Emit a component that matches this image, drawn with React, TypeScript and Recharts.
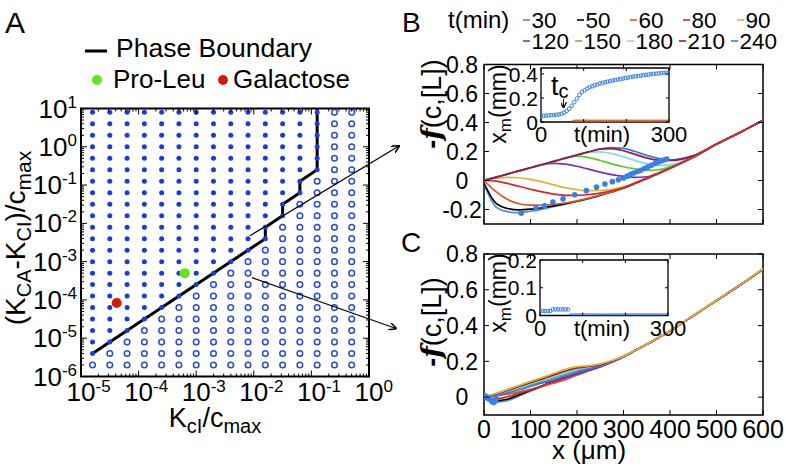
import React from "react";
import { ComposedChart, Scatter, Line, XAxis, YAxis, ReferenceArea } from "recharts";

const W = 786;
const H = 468;
const FONT = "'Liberation Sans', Arial, sans-serif";

// ---------- panel A: parameter sweep, log10 of the grid values ----------
const A_COL_EXP = [-4.8, -4.5, -4.2, -3.9, -3.6, -3.3, -3.0, -2.7, -2.4, -2.1, -1.8, -1.5, -1.2, -0.9, -0.6, -0.3];
const A_ROW_EXP = [-5.7, -5.4, -5.1, -4.8, -4.5, -4.2, -3.9, -3.6, -3.3, -3.0, -2.7, -2.4, -2.1, -1.8, -1.5, -1.2, -0.9, -0.6, -0.3, 0, 0.3, 0.6, 0.9];
// last filled column for each row (-1 = none filled)
const A_LAST_FILLED = [-1, 0, 1, 2, 3, 4, 5, 6, 7, 8, 9, 10, 10, 11, 11, 12, 12, 13, 13, 13, 13, 13, 13];
const A_BOUNDARY_X = [-4.8, -1.8, -1.8, -1.5, -1.5, -1.2, -1.2, -0.9, -0.9];
const A_BOUNDARY_Y = [-5.4, -2.4, -2.1, -1.8, -1.5, -1.2, -0.9, -0.6, 1];
const PRO_LEU = [-3.2, -3.3];
const GALACTOSE = [-4.38, -4.08];
const A_X_DECADES = [-5, -4, -3, -2, -1, 0];
const A_Y_DECADES = [-6, -5, -4, -3, -2, -1, 0, 1];
const MINOR = [2, 3, 4, 5, 6, 7, 8, 9];

// ---------- panels B and C: profiles -f(c,[L]) vs x (um) ----------
const T_MIN = [30, 50, 60, 80, 90, 120, 150, 180, 210, 240];
const T_COLORS = ["#4a8ee0", "#000000", "#e0532a", "#c92b2b", "#e2b03a", "#7b2fb8", "#64c234", "#7fd9ec", "#991a3c", "#3a78de"];
const X_UM = [0, 25, 50, 75, 100, 125, 150, 175, 200, 225, 250, 275, 300, 325, 350, 375, 400, 450, 500, 550, 600];
const X_TICKS = [0, 100, 200, 300, 400, 500, 600];

const B_30 = [-0.025, -0.18, -0.215, -0.222, -0.212, -0.197, -0.18, -0.163, -0.145, -0.125, -0.103, -0.079, -0.053, -0.02, 0.013, 0.047, 0.083, 0.16, 0.25, 0.33, 0.415];
const B_50 = [-0.02, -0.155, -0.193, -0.203, -0.198, -0.188, -0.175, -0.16, -0.143, -0.124, -0.102, -0.078, -0.052, -0.019, 0.014, 0.048, 0.084, 0.16, 0.25, 0.33, 0.415];
const B_60 = [0, -0.075, -0.13, -0.16, -0.17, -0.17, -0.165, -0.155, -0.14, -0.122, -0.1, -0.077, -0.051, -0.018, 0.015, 0.049, 0.085, 0.161, 0.25, 0.33, 0.415];
const B_80 = [0, -0.004, -0.02, -0.04, -0.06, -0.079, -0.094, -0.102, -0.103, -0.097, -0.087, -0.071, -0.05, -0.018, 0.016, 0.05, 0.086, 0.162, 0.251, 0.331, 0.415];
const B_90 = [0, 0.014, 0.021, 0.019, 0.008, -0.01, -0.03, -0.05, -0.063, -0.07, -0.069, -0.061, -0.044, -0.015, 0.018, 0.051, 0.087, 0.162, 0.251, 0.331, 0.415];
const B_120 = [0, 0.022, 0.044, 0.066, 0.088, 0.108, 0.118, 0.113, 0.098, 0.078, 0.058, 0.04, 0.028, 0.022, 0.026, 0.052, 0.088, 0.16, 0.25, 0.331, 0.415];
const B_150 = [0, 0.022, 0.044, 0.066, 0.088, 0.11, 0.132, 0.155, 0.168, 0.158, 0.138, 0.115, 0.095, 0.08, 0.07, 0.074, 0.095, 0.163, 0.251, 0.331, 0.415];
const B_180 = [0, 0.022, 0.044, 0.066, 0.088, 0.11, 0.132, 0.154, 0.176, 0.195, 0.198, 0.185, 0.163, 0.138, 0.115, 0.103, 0.108, 0.165, 0.251, 0.331, 0.415];
const B_210 = [0, 0.022, 0.044, 0.066, 0.088, 0.11, 0.132, 0.154, 0.176, 0.197, 0.216, 0.22, 0.205, 0.18, 0.155, 0.14, 0.138, 0.17, 0.252, 0.331, 0.415];
const B_240 = [0, 0.022, 0.044, 0.066, 0.088, 0.11, 0.132, 0.154, 0.176, 0.197, 0.217, 0.227, 0.222, 0.2, 0.173, 0.153, 0.143, 0.172, 0.252, 0.331, 0.415];
const B_DOT_X = [80, 112, 130, 148, 170, 195, 220, 242, 260, 276, 289, 300, 308, 315, 322, 330, 337, 345, 352, 360, 368, 375, 382, 388, 393];
const B_DOT_Y = [-0.225, -0.19, -0.175, -0.148, -0.127, -0.098, -0.07, -0.046, -0.024, -0.008, 0.005, 0.018, 0.03, 0.042, 0.052, 0.062, 0.07, 0.082, 0.092, 0.105, 0.118, 0.128, 0.137, 0.143, 0.148];

const C_30 = [-0.01, -0.028, -0.02, 0.006, 0.033, 0.06, 0.086, 0.109, 0.129, 0.149, 0.17, 0.196, 0.226, 0.26, 0.295, 0.332, 0.37, 0.455, 0.54, 0.625, 0.715];
const C_50 = [-0.005, -0.02, -0.012, 0.012, 0.038, 0.063, 0.088, 0.11, 0.13, 0.15, 0.17, 0.196, 0.226, 0.26, 0.295, 0.332, 0.37, 0.455, 0.54, 0.625, 0.715];
const C_60 = [0, 0.006, 0.016, 0.028, 0.043, 0.06, 0.078, 0.098, 0.122, 0.146, 0.17, 0.196, 0.226, 0.26, 0.295, 0.332, 0.37, 0.455, 0.54, 0.625, 0.715];
const C_80 = [-0.005, -0.01, 0.002, 0.02, 0.04, 0.063, 0.086, 0.108, 0.13, 0.15, 0.17, 0.196, 0.226, 0.26, 0.295, 0.332, 0.37, 0.455, 0.54, 0.625, 0.715];
const C_90 = [0, 0.02, 0.042, 0.065, 0.088, 0.11, 0.133, 0.155, 0.17, 0.176, 0.186, 0.205, 0.229, 0.261, 0.296, 0.333, 0.371, 0.456, 0.541, 0.626, 0.716];
const C_120 = [0, 0.018, 0.04, 0.062, 0.072, 0.08, 0.09, 0.108, 0.13, 0.152, 0.172, 0.197, 0.226, 0.26, 0.295, 0.332, 0.37, 0.455, 0.54, 0.625, 0.715];
const C_150 = [0, 0.012, 0.03, 0.05, 0.07, 0.09, 0.11, 0.13, 0.148, 0.162, 0.176, 0.2, 0.228, 0.26, 0.295, 0.332, 0.37, 0.455, 0.54, 0.625, 0.715];
const C_180 = [0, 0.014, 0.034, 0.055, 0.076, 0.097, 0.117, 0.137, 0.155, 0.167, 0.179, 0.201, 0.228, 0.26, 0.295, 0.332, 0.37, 0.455, 0.54, 0.625, 0.715];
const C_210 = [0, 0.016, 0.037, 0.059, 0.081, 0.102, 0.124, 0.146, 0.163, 0.171, 0.182, 0.203, 0.228, 0.26, 0.295, 0.332, 0.37, 0.455, 0.54, 0.625, 0.715];
const C_240 = [0, 0.008, 0.022, 0.04, 0.06, 0.08, 0.1, 0.12, 0.14, 0.158, 0.175, 0.199, 0.227, 0.26, 0.295, 0.332, 0.37, 0.455, 0.54, 0.625, 0.715];
const C_DOT_X = [2, 6, 12, 17, 21, 24, 26];
const C_DOT_Y = [0.008, 0.0, -0.012, -0.025, -0.03, -0.022, -0.01];

// ---------- insets: front position x_m (mm) vs t (min) ----------
const B_IN_T = [0, 6, 12, 18, 24, 30, 36, 42, 48, 54, 60, 66, 72, 78, 84, 90, 96, 102, 108, 114, 120, 126, 132, 138, 144, 150, 156, 162, 168, 174, 180, 186, 192, 198, 204, 210, 216, 222, 228, 234, 240, 246, 252, 258, 264, 270, 276, 282, 288, 294, 300];
const B_IN_XM = [0.05, 0.052, 0.054, 0.055, 0.057, 0.058, 0.06, 0.063, 0.068, 0.078, 0.092, 0.11, 0.135, 0.165, 0.195, 0.225, 0.25, 0.265, 0.278, 0.29, 0.298, 0.306, 0.313, 0.32, 0.326, 0.331, 0.336, 0.341, 0.346, 0.35, 0.354, 0.358, 0.362, 0.366, 0.37, 0.374, 0.378, 0.381, 0.384, 0.387, 0.39, 0.393, 0.396, 0.398, 0.401, 0.403, 0.405, 0.407, 0.409, 0.411, 0.413];
const B_IN_ZERO_T = [78, 84, 90, 96, 102, 108, 114, 120, 126, 132, 138, 144, 150, 156, 162, 168, 174, 180, 186, 192, 198, 204, 210, 216, 222, 228, 234, 240, 246, 252, 258, 264, 270, 276, 282, 288, 294, 300];
const C_IN_T = [0, 6, 12, 18, 24, 30, 36, 42, 48, 54, 60, 66, 72, 78, 84, 90, 96, 102, 108, 114, 120, 126, 132, 138, 144, 150, 156, 162, 168, 174, 180, 186, 192, 198, 204, 210, 216, 222, 228, 234, 240, 246, 252, 258, 264, 270, 276, 282, 288, 294, 300];
const C_IN_XM = [0.016, 0.016, 0.016, 0.016, 0.016, 0.022, 0.022, 0.022, 0.022, 0.022, 0.022, 0.022, 0, 0, 0, 0, 0, 0, 0, 0, 0, 0, 0, 0, 0, 0, 0, 0, 0, 0, 0, 0, 0, 0, 0, 0, 0, 0, 0, 0, 0, 0, 0, 0, 0, 0, 0, 0, 0, 0, 0];

type Pt = { x: number; y: number };
const pts = (xs: number[], ys: number[]): Pt[] => xs.map((x, i) => ({ x, y: ys[i] }));
const logPts = (xs: number[], ys: number[]): Pt[] => xs.map((x, i) => ({ x: 10 ** x, y: 10 ** ys[i] }));

// plot boxes (pixel edges)
const A_BOX = { l: 81, t: 108.5, r: 369, b: 376.5 };
const B_BOX = { l: 484, t: 64.5, r: 763, b: 224 };
const C_BOX = { l: 484, t: 254, r: 763, b: 415 };
const BI_BOX = { l: 541, t: 68, r: 669, b: 122 };
const CI_BOX = { l: 540, t: 260, r: 668, b: 315.5 };

const YW = 50;
const XH = 40;
const marginFor = (bx: { l: number; t: number; r: number; b: number }) => ({
  top: bx.t,
  left: bx.l - YW,
  right: W - bx.r,
  bottom: H - bx.b - XH,
});

const layer: React.CSSProperties = { position: "absolute", left: 0, top: 0 };

const dot = (r: number, fill: string) => (p: any) => <circle cx={p.cx} cy={p.cy} r={r} fill={fill} />;
const ring = (r: number, stroke: string, sw: number) => (p: any) => (
  <circle cx={p.cx} cy={p.cy} r={r} fill="none" stroke={stroke} strokeWidth={sw} />
);

// ---------- tick renderers (inward ticks on all four sides) ----------
const isMajor = (v: number) => {
  const e = Math.log10(v);
  return Math.abs(e - Math.round(e)) < 1e-6;
};

const LogXTick = (p: any) => {
  const { x, y, payload } = p;
  const major = isMajor(payload.value);
  const len = major ? 6 : 3;
  const h = A_BOX.b - A_BOX.t;
  return (
    <g>
      <line x1={x} y1={y} x2={x} y2={y - len} stroke="#000" />
      <line x1={x} y1={y - h} x2={x} y2={y - h + len} stroke="#000" />
      {major && (
        <text x={x} y={y + 24} fontSize={26} fontFamily={FONT} textAnchor="middle" fill="#000">10</text>
      )}
      {major && (
        <text x={x + 14.5} y={y + 15} fontSize={17} fontFamily={FONT} fill="#000">{Math.round(Math.log10(payload.value))}</text>
      )}
    </g>
  );
};

const LogYTick = (p: any) => {
  const { x, y, payload } = p;
  const major = isMajor(payload.value);
  const len = major ? 6 : 3;
  const w = A_BOX.r - A_BOX.l;
  return (
    <g>
      <line x1={x} y1={y} x2={x + len} y2={y} stroke="#000" />
      <line x1={x + w} y1={y} x2={x + w - len} y2={y} stroke="#000" />
      {major && (
        <text x={x - 4} y={y + 9} fontSize={26} fontFamily={FONT} textAnchor="end" fill="#000">
          10<tspan dy={-10} fontSize={17}>{Math.round(Math.log10(payload.value))}</tspan>
        </text>
      )}
    </g>
  );
};

const linXTick = (plotH: number, showLabel: (v: number) => boolean, fs: number, dy: number, len: number) => (p: any) => {
  const { x, y, payload } = p;
  return (
    <g>
      <line x1={x} y1={y} x2={x} y2={y - len} stroke="#000" />
      <line x1={x} y1={y - plotH} x2={x} y2={y - plotH + len} stroke="#000" />
      {showLabel(payload.value) && (
        <text x={x} y={y + dy} fontSize={fs} fontFamily={FONT} textAnchor="middle" fill="#000">{payload.value}</text>
      )}
    </g>
  );
};

const linYTick = (plotW: number, fs: number, labelX: number, anchor: "middle" | "end", len: number) => (p: any) => {
  const { x, y, payload } = p;
  return (
    <g>
      <line x1={x} y1={y} x2={x + len} y2={y} stroke="#000" />
      <line x1={x + plotW} y1={y} x2={x + plotW - len} y2={y} stroke="#000" />
      <text x={x - labelX} y={y + fs * 0.36} fontSize={fs} fontFamily={FONT} textAnchor={anchor} fill="#000">{payload.value}</text>
    </g>
  );
};

// ---------- panel A ----------
const aFilled: Pt[] = [];
const aOpen: Pt[] = [];
A_ROW_EXP.forEach((ry, k) =>
  A_COL_EXP.forEach((cx, c) => (c <= A_LAST_FILLED[k] ? aFilled : aOpen).push({ x: 10 ** cx, y: 10 ** ry }))
);
const aBoundary = logPts(A_BOUNDARY_X, A_BOUNDARY_Y);
const aXTicks = A_X_DECADES.flatMap((d) => (d < 0 ? [10 ** d, ...MINOR.map((m) => m * 10 ** d)] : [10 ** d]));
const aYTicks = A_Y_DECADES.flatMap((d) => (d < 1 ? [10 ** d, ...MINOR.map((m) => m * 10 ** d)] : [10 ** d]));

function PanelA() {
  return (
    <ComposedChart width={W} height={H} margin={marginFor(A_BOX)}>
      <XAxis type="number" dataKey="x" scale="log" domain={[1e-5, 1]} allowDataOverflow ticks={aXTicks} interval={0}
        tick={LogXTick} tickLine={false} axisLine={false} tickSize={0} tickMargin={0} height={XH} />
      <YAxis type="number" dataKey="y" scale="log" domain={[1e-6, 10]} allowDataOverflow ticks={aYTicks} interval={0}
        tick={LogYTick} tickLine={false} axisLine={false} tickSize={0} tickMargin={0} width={YW} />
      <Scatter data={aOpen} shape={ring(2.8, "#2a4bd0", 1.5)} isAnimationActive={false} />
      <Scatter data={aFilled} shape={dot(2.5, "#1b3dd6")} isAnimationActive={false} />
      <Line data={aBoundary} dataKey="y" type="linear" stroke="#000" strokeWidth={3} dot={false} isAnimationActive={false} />
      <Scatter data={logPts([PRO_LEU[0]], [PRO_LEU[1]])} shape={dot(5, "#66e11e")} isAnimationActive={false} />
      <Scatter data={logPts([GALACTOSE[0]], [GALACTOSE[1]])} shape={dot(5, "#cf1d0e")} isAnimationActive={false} />
      <ReferenceArea x1={1e-5} x2={1} y1={1e-6} y2={10} fill="none" stroke="#000" strokeWidth={2} ifOverflow="visible" />
    </ComposedChart>
  );
}

// ---------- panels B, C ----------
const B_SERIES = [B_30, B_50, B_60, B_80, B_90, B_120, B_150, B_180, B_210, B_240];
const C_SERIES = [C_30, C_50, C_60, C_80, C_90, C_120, C_150, C_180, C_210, C_240];
const B_ORDER = [0, 1, 4, 5, 6, 7, 9, 8, 2, 3];
const C_ORDER = [0, 1, 2, 3, 5, 6, 7, 9, 8, 4];

function ProfilePanel(props: {
  box: { l: number; t: number; r: number; b: number };
  yDomain: [number, number];
  yTicks: number[];
  series: number[][];
  order: number[];
  dotsX: number[];
  dotsY: number[];
  xLabels: boolean;
}) {
  const { box, yDomain, yTicks, series, order, dotsX, dotsY, xLabels } = props;
  return (
    <ComposedChart width={W} height={H} margin={marginFor(box)}>
      <XAxis type="number" dataKey="x" domain={[0, 600]} allowDataOverflow ticks={X_TICKS} interval={0}
        tick={linXTick(box.b - box.t, () => xLabels, 25, 23, 5)} tickLine={false} axisLine={false} tickSize={0} tickMargin={0} height={XH} />
      <YAxis type="number" dataKey="y" domain={yDomain} allowDataOverflow ticks={yTicks} interval={0}
        tick={linYTick(box.r - box.l, 23, 22, "middle", 5)} tickLine={false} axisLine={false} tickSize={0} tickMargin={0} width={YW} />
      {order.map((i) => (
        <Line key={T_MIN[i]} data={pts(X_UM, series[i])} dataKey="y" type="monotone" stroke={T_COLORS[i]}
          strokeWidth={1.7} dot={false} isAnimationActive={false} />
      ))}
      <Scatter data={pts(dotsX, dotsY)} shape={dot(2.8, "#3a80e2")} isAnimationActive={false} />
      <ReferenceArea x1={0} x2={600} y1={yDomain[0]} y2={yDomain[1]} fill="none" stroke="#000" strokeWidth={1.5} ifOverflow="visible" />
    </ComposedChart>
  );
}

function Inset(props: {
  box: { l: number; t: number; r: number; b: number };
  yMax: number;
  yTicks: number[];
  blue: Pt[];
  zero: Pt[];
  zeroColor: string;
}) {
  const { box, yMax, yTicks, blue, zero, zeroColor } = props;
  return (
    <ComposedChart width={W} height={H} margin={marginFor(box)}>
      <XAxis type="number" dataKey="x" domain={[0, 300]} allowDataOverflow ticks={[0, 100, 200, 300]} interval={0}
        tick={linXTick(box.b - box.t, (v) => v === 0 || v === 300, 22, 20, 3)} tickLine={false} axisLine={false} tickSize={0} tickMargin={0} height={XH} />
      <YAxis type="number" dataKey="y" domain={[0, yMax]} allowDataOverflow ticks={yTicks} interval={0}
        tick={linYTick(box.r - box.l, 21, 3, "end", 3)} tickLine={false} axisLine={false} tickSize={0} tickMargin={0} width={YW} />
      <ReferenceArea x1={0} x2={300} y1={0} y2={yMax} fill="#fff" stroke="#000" strokeWidth={1.3} ifOverflow="visible" />
      <Scatter data={zero} shape={ring(2, zeroColor, 1.2)} isAnimationActive={false} />
      <Scatter data={blue} shape={ring(1.8, "#3a7fe0", 1)} isAnimationActive={false} />
    </ComposedChart>
  );
}

// ---------- text, legends, arrows ----------
const LEG_ROW1_X = [523, 577, 630, 683, 737];
const LEG_ROW2_X = [523, 575, 627, 679, 731];

function FLabel(props: { cx: number; cy: number }) {
  return (
    <text transform={`translate(${props.cx},${props.cy}) rotate(-90)`} textAnchor="middle" fontSize={27} fontFamily={FONT}>
      <tspan fontWeight="bold">-</tspan>
      <tspan fontFamily="'DejaVu Serif', serif" fontStyle="italic" fontWeight="bold">f</tspan>
      <tspan>(c,[L])</tspan>
    </text>
  );
}

function XmLabel(props: { cx: number; cy: number }) {
  return (
    <text transform={`translate(${props.cx},${props.cy}) rotate(-90)`} textAnchor="middle" fontSize={23} fontFamily={FONT}>
      x<tspan fontSize={17} dy={5}>m</tspan>
      <tspan dy={-5}>(mm)</tspan>
    </text>
  );
}

function Overlay() {
  return (
    <svg width={W} height={H} style={{ ...layer, pointerEvents: "none" }} fontFamily={FONT}>
      <defs>
        <marker id="arr" viewBox="0 0 10 10" refX="9" refY="5" markerWidth="6" markerHeight="6" orient="auto">
          <path d="M0,0 L10,5 L0,10" fill="none" stroke="#000" strokeWidth="2" />
        </marker>
      </defs>
      <text x={5} y={33} fontSize={30}>A</text>
      <text x={402} y={32} fontSize={28}>B</text>
      <text x={401} y={252} fontSize={28}>C</text>

      <line x1={85} y1={51} x2={107} y2={51} stroke="#000" strokeWidth={3} />
      <text x={116} y={57} fontSize={26.5}>Phase Boundary</text>
      <circle cx={97} cy={80} r={5} fill="#66e11e" />
      <text x={113} y={88} fontSize={26}>Pro-Leu</text>
      <circle cx={223} cy={80} r={5} fill="#cf1d0e" />
      <text x={233} y={88} fontSize={26}>Galactose</text>

      <text transform="translate(25,238) rotate(-90)" textAnchor="middle" fontSize={28}>
        (K<tspan fontSize={20} dy={6}>CA</tspan>
        <tspan dy={-6}>-K</tspan>
        <tspan fontSize={20} dy={6}>CI</tspan>
        <tspan dy={-6}>)/c</tspan>
        <tspan fontSize={21} dy={6}>max</tspan>
      </text>
      <text x={215} y={427} textAnchor="middle" fontSize={27}>
        K<tspan fontSize={20} dy={6}>cI</tspan>
        <tspan dy={-6}>/c</tspan>
        <tspan fontSize={20} dy={6}>max</tspan>
      </text>

      <line x1={250} y1={235.7} x2={399} y2={146} stroke="#000" strokeWidth={1.3} markerEnd="url(#arr)" />
      <line x1={252} y1={277.7} x2={396} y2={328.5} stroke="#000" strokeWidth={1.3} markerEnd="url(#arr)" />

      <text x={448} y={28} fontSize={24}>t(min)</text>
      {T_MIN.map((t, i) => {
        const row = i < 5 ? 0 : 1;
        const x0 = row === 0 ? LEG_ROW1_X[i] : LEG_ROW2_X[i - 5];
        const yb = row === 0 ? 28 : 49;
        return (
          <g key={t}>
            <line x1={x0} y1={yb - 8} x2={x0 + 7} y2={yb - 8} stroke={T_COLORS[i]} strokeWidth={1.6} />
            <text x={x0 + 8.5} y={yb} fontSize={22.5}>{t}</text>
          </g>
        );
      })}

      <FLabel cx={441} cy={104} />
      <FLabel cx={441} cy={322} />
      <text x={589} y={459} textAnchor="middle" fontSize={26}>x (μm)</text>

      <XmLabel cx={506} cy={104} />
      <XmLabel cx={506} cy={293} />
      <text x={602} y={142} textAnchor="middle" fontSize={22}>t(min)</text>
      <text x={602} y={335.5} textAnchor="middle" fontSize={22}>t(min)</text>

      <text x={551} y={95} fontSize={27}>t<tspan fontSize={20} dy={3}>c</tspan></text>
      <line x1={563.5} y1={99} x2={563.5} y2={107.5} stroke="#000" strokeWidth={1} markerEnd="url(#arr)" />
    </svg>
  );
}

export default function App() {
  return (
    <div style={{ position: "absolute", left: 0, top: 0, width: W, height: H, background: "#fff", overflow: "hidden" }}>
      <div style={layer}><PanelA /></div>
      <div style={layer}>
        <ProfilePanel box={B_BOX} yDomain={[-0.3, 0.8]} yTicks={[-0.2, 0, 0.2, 0.4, 0.6, 0.8]} series={B_SERIES}
          order={B_ORDER} dotsX={B_DOT_X} dotsY={B_DOT_Y} xLabels={false} />
      </div>
      <div style={layer}>
        <ProfilePanel box={C_BOX} yDomain={[-0.1, 0.8]} yTicks={[0, 0.2, 0.4, 0.6, 0.8]} series={C_SERIES}
          order={C_ORDER} dotsX={C_DOT_X} dotsY={C_DOT_Y} xLabels={true} />
      </div>
      <div style={layer}>
        <Inset box={BI_BOX} yMax={0.45} yTicks={[0, 0.2, 0.4]} blue={pts(B_IN_T, B_IN_XM)}
          zero={B_IN_ZERO_T.map((t) => ({ x: t, y: 0 }))} zeroColor="#d9541a" />
      </div>
      <div style={layer}>
        <Inset box={CI_BOX} yMax={0.2} yTicks={[0, 0.1, 0.2]} blue={pts(C_IN_T, C_IN_XM)} zero={[]} zeroColor="#3a7fe0" />
      </div>
      <Overlay />
    </div>
  );
}
